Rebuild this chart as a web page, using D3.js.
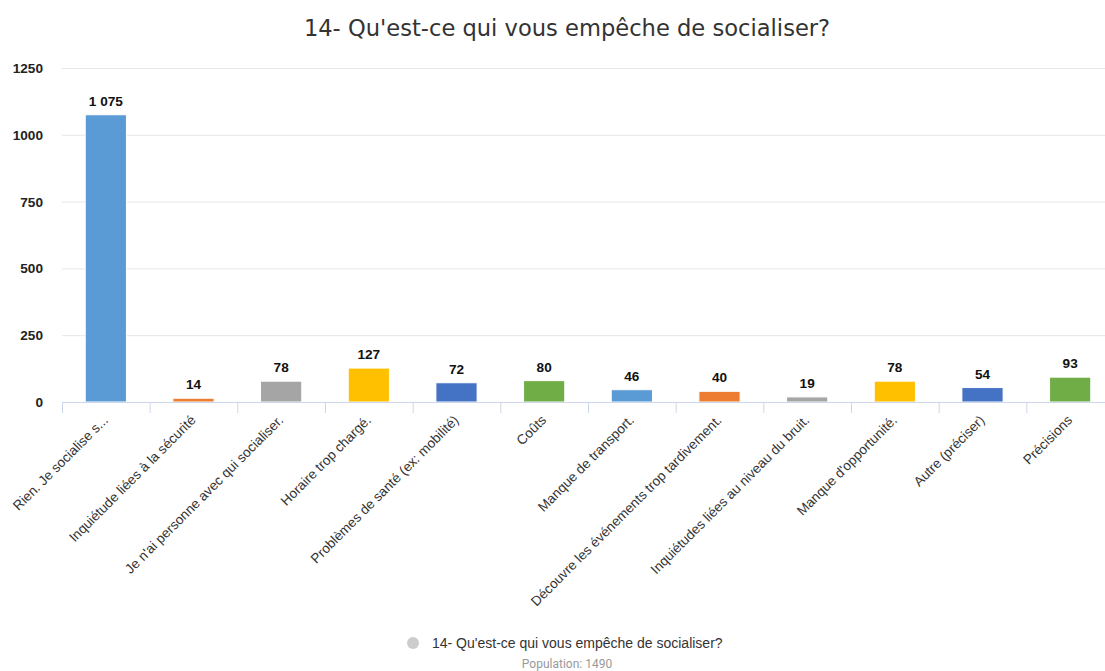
<!DOCTYPE html>
<html>
<head>
<meta charset="utf-8">
<script src="https://cdn.jsdelivr.net/npm/d3@7"></script>
<style>
  body { margin: 0; background: #fff; }
  svg text { font-family: "Liberation Sans", Arial, sans-serif; }
</style>
</head>
<body>
<svg id="chart" width="1105" height="671"></svg>
<script>
const categories = [
  'Rien. Je socialise s...',
  'Inquiétude liées à la sécurité',
  "Je n'ai personne avec qui socialiser.",
  'Horaire trop chargé.',
  'Problèmes de santé (ex: mobilité)',
  'Coûts',
  'Manque de transport.',
  'Découvre les événements trop tardivement.',
  'Inquiétudes liées au niveau du bruit.',
  "Manque d'opportunité.",
  'Autre (préciser)',
  'Précisions'
]
const values = [1075, 14, 78, 127, 72, 80, 46, 40, 19, 78, 54, 93]
const palette = ['#5b9bd5', '#ed7d31', '#a5a5a5', '#ffc000', '#4472c4', '#70ad47']
const yTicks = [0, 250, 500, 750, 1000, 1250]
const title = "14- Qu'est-ce qui vous empêche de socialiser?"
const population = 1490

const svg = d3.select('#chart')
const plotLeft = 62, plotRight = 1114, plotTop = 68, plotBottom = 402

let x = d3.scaleBand().domain(categories).range([plotLeft, plotRight]).paddingInner(0.53).paddingOuter(0.265)
let xb = d3.scaleBand().domain(categories).range([plotLeft, plotRight]) // for tick positions
let y = d3.scaleLinear().domain([0, 1250]).range([plotBottom, plotTop])

// title
svg.append('text')
  .attr('x', 567).attr('y', 36)
  .attr('text-anchor', 'middle')
  .style('font-family', '"DejaVu Sans", sans-serif')
  .style('font-size', '22.6px')
  .attr('fill', '#333')
  .text(title)

// gridlines
svg.append('g')
  .selectAll('line')
  .data(yTicks.filter(d => d > 0))
  .enter()
  .append('line')
  .attr('x1', plotLeft).attr('x2', 1105)
  .attr('y1', d => y(d) + 0.5).attr('y2', d => y(d) + 0.5)
  .attr('stroke', '#e6e6e6')

// y labels
svg.append('g')
  .selectAll('text')
  .data(yTicks)
  .enter()
  .append('text')
  .attr('x', 43).attr('y', d => y(d) + 5)
  .attr('text-anchor', 'end')
  .style('font-size', '13.6px').style('font-weight', 'bold')
  .attr('fill', '#222')
  .text(d => d)

// bars
svg.append('g')
  .selectAll('rect')
  .data(values)
  .enter()
  .append('rect')
  .attr('x', (d, i) => x(categories[i]))
  .attr('width', x.bandwidth())
  .attr('y', d => y(d))
  .attr('height', d => plotBottom - y(d))
  .attr('fill', (d, i) => palette[i % palette.length])
  .attr('stroke', '#fff').attr('stroke-width', 1)

// value labels
svg.append('g')
  .selectAll('text')
  .data(values)
  .enter()
  .append('text')
  .attr('x', (d, i) => x(categories[i]) + x.bandwidth() / 2)
  .attr('y', d => y(d) - 9)
  .attr('text-anchor', 'middle')
  .style('font-size', '13.6px').style('font-weight', 'bold')
  .attr('fill', '#111')
  .text(d => d3.format(',')(d).replace(',', ' '))

// x axis line + ticks
svg.append('line')
  .attr('x1', plotLeft).attr('x2', 1105)
  .attr('y1', plotBottom + 0.5).attr('y2', plotBottom + 0.5)
  .attr('stroke', '#ccd6eb')

svg.append('g')
  .selectAll('line')
  .data(categories)
  .enter()
  .append('line')
  .attr('x1', d => xb(d) + 0.5).attr('x2', d => xb(d) + 0.5)
  .attr('y1', plotBottom).attr('y2', plotBottom + 11)
  .attr('stroke', '#ccd6eb')

// x labels, rotated
svg.append('g')
  .selectAll('text')
  .data(categories)
  .enter()
  .append('text')
  .attr('transform', d => `translate(${xb(d) + xb.bandwidth() / 2 + 3}, 421) rotate(-45)`)
  .attr('text-anchor', 'end')
  .style('font-size', '13.6px')
  .attr('fill', '#333')
  .text(d => d)

// legend
svg.append('circle')
  .attr('cx', 413).attr('cy', 643).attr('r', 6)
  .attr('fill', '#cccccc')

svg.append('text')
  .attr('x', 432).attr('y', 648)
  .style('font-size', '14px')
  .attr('fill', '#333')
  .text(title)

svg.append('text')
  .attr('x', 567).attr('y', 668)
  .attr('text-anchor', 'middle')
  .style('font-family', 'Roboto, sans-serif')
  .style('font-size', '12px')
  .attr('fill', '#999')
  .text('Population: ' + population)
</script>
</body>
</html>
